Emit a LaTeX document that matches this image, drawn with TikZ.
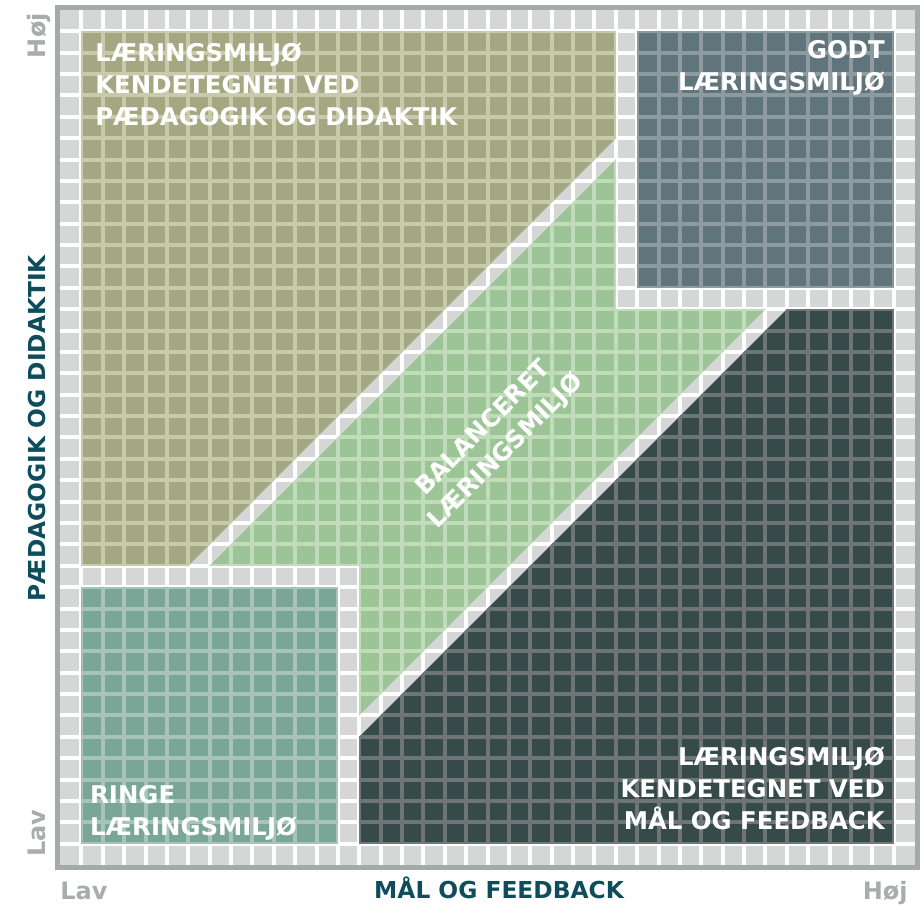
\documentclass[tikz,border=0pt]{standalone}
\usepackage{fontspec}
\setmainfont{DejaVu Sans}
\definecolor{grid1}{RGB}{212,215,214}
\definecolor{frame1}{RGB}{163,171,168}
\definecolor{olive1}{RGB}{164,168,130}
\definecolor{olive2}{RGB}{199,203,172}
\definecolor{slate1}{RGB}{95,116,123}
\definecolor{slate2}{RGB}{141,155,160}
\definecolor{green1}{RGB}{156,196,150}
\definecolor{green2}{RGB}{192,220,186}
\definecolor{teal1}{RGB}{122,166,151}
\definecolor{teal2}{RGB}{168,196,186}
\definecolor{dark1}{RGB}{53,74,73}
\definecolor{dark2}{RGB}{110,118,117}
\definecolor{axis1}{RGB}{15,76,92}
\definecolor{label1}{RGB}{167,173,171}
% one coloured zone: fill, then its own grid lines clipped to it
\newcommand{\zone}[3]{
  \fill[#1] #3;
  \begin{scope}
    \clip #3;
    \foreach \k in {1,...,39}
      \draw[#2, line width=3pt] (\k,0) -- (\k,40) (0,\k) -- (40,\k);
  \end{scope}
}

\begin{document}
\begin{tikzpicture}[x=16.03pt, y=16.03pt,
  zonetext/.style={font=\fontsize{18.3}{24}\selectfont\bfseries, text=white, inner sep=0pt},
  axistext/.style={font=\fontsize{17.5}{20}\selectfont\bfseries, text=axis1, inner sep=0pt},
  endtext/.style={font=\fontsize{18}{20}\selectfont\bfseries, text=label1, inner sep=0pt}]
  \useasboundingbox (-2.807,-1.918) rectangle (40.374,40.468);

  % background grid
  \fill[grid1] (0,0) rectangle (40,40);
  \foreach \k in {1,...,39}
    \draw[white, line width=3pt] (\k,0) -- (\k,40) (0,\k) -- (40,\k);

  % zones
  \zone{olive1}{olive2}{(1,39) -- (26,39) -- (26,34) -- (6,14) -- (1,14) -- cycle}
  \zone{green1}{green2}{(7,14) -- (14,14) -- (14,7) -- (33,26) -- (26,26) -- (26,33) -- cycle}
  \zone{slate1}{slate2}{(27,27) rectangle (39,39)}
  \zone{teal1}{teal2}{(1,1) rectangle (13,13)}
  \zone{dark1}{dark2}{(14,1) -- (39,1) -- (39,26) -- (34,26) -- (14,6) -- cycle}

  \draw[frame1, line width=3.75pt] (-0.117,-0.117) rectangle (40.117,40.117);

  % zone labels
  \node[zonetext, anchor=north west, align=left] (pd) at (1.64,38.46)
    {LÆRINGSMILJØ\\KENDETEGNET VED\\PÆDAGOGIK OG DIDAKTIK};
  \node[zonetext, anchor=north east, align=right] (godt) at (38.6,38.6)
    {GODT\\LÆRINGSMILJØ};
  \node[zonetext, anchor=north east, align=right] (mf) at (38.6,5.52)
    {LÆRINGSMILJØ\\KENDETEGNET VED\\MÅL OG FEEDBACK};
  \node[zonetext, anchor=north west, align=left] (ringe) at (1.40,3.74)
    {RINGE\\LÆRINGSMILJØ};
  \node[zonetext, rotate=45, align=center] (bal) at (20.35,19.88)
    {BALANCERET\\LÆRINGSMILJØ};

  % axes
  \node[axistext, anchor=base] (xaxis) at (20.54,-1.59) {MÅL OG FEEDBACK};
  \node[axistext, anchor=base, rotate=90] (yaxis) at (-0.70,20.44) {PÆDAGOGIK OG DIDAKTIK};
  \node[endtext, anchor=base west] (xlow) at (0,-1.62) {Lav};
  \node[endtext, anchor=base east] (xhigh) at (39.67,-1.62) {Høj};
  \node[endtext, anchor=base west, rotate=90] (ylow) at (-0.70,0.37) {Lav};
  \node[endtext, anchor=base east, rotate=90] (yhigh) at (-0.70,39.86) {Høj};
\end{tikzpicture}
\end{document}
